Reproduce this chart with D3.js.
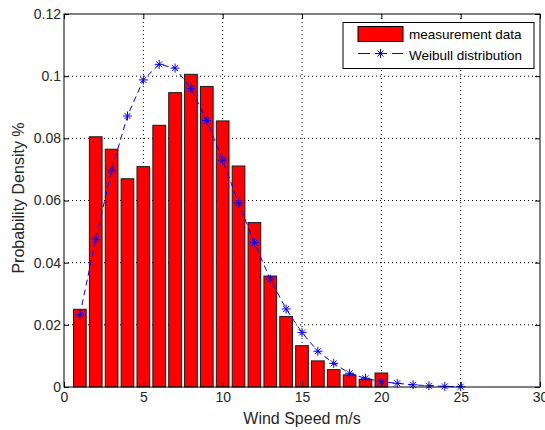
<!DOCTYPE html>
<html>
<head>
<meta charset="utf-8">
<script src="https://cdn.jsdelivr.net/npm/d3@7"></script>
<style>
    body { margin: 0; background: #fff; }
    svg { display: block; font-family: "Liberation Sans", Arial, sans-serif; }
    .tick text { fill: #262626; font-size: 14px; }
</style>
</head>
<body>
<svg id="chart" width="545" height="430"></svg>
<script>
    // measured histogram (bin centres 1..20)
    const speeds = d3.range(1, 21);
    const measured = [0.025, 0.0805, 0.0765, 0.067, 0.0709, 0.0842, 0.0947, 0.1006, 0.0967, 0.0856,
        0.0711, 0.0529, 0.0357, 0.0227, 0.0133, 0.0084, 0.0056, 0.0039, 0.0025, 0.0045];

    // fitted Weibull curve (1..25)
    const weibullX = d3.range(1, 26);
    const weibull = [0.0232, 0.0475, 0.0698, 0.0872, 0.0988, 0.1038, 0.1026, 0.0961, 0.0857, 0.0730,
        0.0592, 0.0464, 0.0347, 0.0251, 0.0175, 0.0115, 0.0076, 0.0044, 0.0028, 0.0017,
        0.0012, 0.0007, 0.0004, 0.0002, 0.0001];

    const xTicks = [0, 5, 10, 15, 20, 25, 30];
    const yTicks = [0, 0.02, 0.04, 0.06, 0.08, 0.1, 0.12];
    const legendLabels = ["measurement data", "Weibull distribution"];

    const margin = { left: 64, right: 5, top: 14, bottom: 43 };
    const svg = d3.select("#chart");
    const width = 545 - margin.left - margin.right;
    const height = 430 - margin.top - margin.bottom;

    const x = d3.scaleLinear().domain([0, 30]).range([0, width]);
    const y = d3.scaleLinear().domain([0, 0.12]).range([height, 0]);

    const g = svg.append("g").attr("transform", `translate(${margin.left},${margin.top})`);

    // grid
    g.append("g").selectAll("line").data(xTicks.slice(1, -1)).join("line")
        .attr("x1", d => x(d)).attr("x2", d => x(d))
        .attr("y1", 0).attr("y2", height)
        .attr("stroke", "#000").attr("stroke-dasharray", "1,3");
    g.append("g").selectAll("line").data(yTicks.slice(1, -1)).join("line")
        .attr("y1", d => y(d)).attr("y2", d => y(d))
        .attr("x1", 0).attr("x2", width)
        .attr("stroke", "#000").attr("stroke-dasharray", "1,3");

    // bars
    const barW = x(0.8) - x(0);
    g.append("g").selectAll("rect").data(speeds).join("rect")
        .attr("x", (d) => x(d) - barW / 2)
        .attr("y", (d, i) => y(measured[i]))
        .attr("width", barW)
        .attr("height", (d, i) => height - y(measured[i]))
        .attr("fill", "#ff0000")
        .attr("stroke", "#1a1a1a")
        .attr("stroke-width", 1);

    // weibull line
    const line = d3.line().x(d => x(d[0])).y(d => y(d[1]));
    const pts = weibullX.map((d, i) => [d, weibull[i]]);
    g.append("path").datum(pts)
        .attr("d", line)
        .attr("fill", "none")
        .attr("stroke", "#0000ff")
        .attr("stroke-width", 1)
        .attr("stroke-dasharray", "6,4");

    const star = (sel, cx, cy) => {
        const s = sel.append("g").attr("transform", `translate(${cx},${cy})`)
            .attr("stroke", "#0000ff").attr("stroke-width", 1);
        s.append("line").attr("x1", -4.5).attr("x2", 4.5).attr("y1", 0).attr("y2", 0);
        s.append("line").attr("x1", 0).attr("x2", 0).attr("y1", -4.5).attr("y2", 4.5);
        s.append("line").attr("x1", -3).attr("x2", 3).attr("y1", -3).attr("y2", 3);
        s.append("line").attr("x1", -3).attr("x2", 3).attr("y1", 3).attr("y2", -3);
    };
    pts.forEach(p => star(g, x(p[0]), y(p[1])));

    // axes (ticks inside, mirrored on top/right)
    const tickLen = 5;
    g.append("g").attr("transform", `translate(0,${height})`)
        .call(d3.axisBottom(x).tickValues(xTicks).tickSize(-tickLen).tickPadding(5).tickFormat(d3.format("d")));
    g.append("g")
        .call(d3.axisLeft(y).tickValues(yTicks).tickSize(-tickLen).tickPadding(3).tickFormat(d => d === 0 ? "0" : String(+d.toFixed(2))));
    g.append("g")
        .call(d3.axisTop(x).tickValues(xTicks).tickSize(-tickLen).tickFormat(""));
    g.append("g").attr("transform", `translate(${width},0)`)
        .call(d3.axisRight(y).tickValues(yTicks).tickSize(-tickLen).tickFormat(""));
    g.selectAll(".domain").remove();
    g.selectAll(".tick line").attr("stroke", "#000");

    g.append("rect").attr("width", width).attr("height", height)
        .attr("fill", "none").attr("stroke", "#000");

    // labels
    svg.append("text")
        .attr("x", margin.left + width / 2).attr("y", 424)
        .attr("text-anchor", "middle").attr("font-size", 16).attr("fill", "#262626")
        .text("Wind Speed m/s");
    svg.append("text")
        .attr("transform", "translate(24,198) rotate(-90)")
        .attr("text-anchor", "middle").attr("font-size", 16).attr("fill", "#262626")
        .text("Probability Density %");

    // legend
    const leg = svg.append("g").attr("transform", "translate(343,22.5)");
    leg.append("rect").attr("width", 191).attr("height", 46)
        .attr("fill", "#fff").attr("stroke", "#000");
    leg.append("rect").attr("x", 15).attr("y", 4).attr("width", 45).attr("height", 15)
        .attr("fill", "#ff0000").attr("stroke", "#000");
    leg.append("line").attr("x1", 15).attr("x2", 60).attr("y1", 31).attr("y2", 31)
        .attr("stroke", "#0000ff").attr("stroke-dasharray", "12,5");
    star(leg, 37.5, 31);
    leg.selectAll("text.lbl").data(legendLabels).join("text")
        .attr("class", "lbl")
        .attr("x", 66).attr("y", (d, i) => 16 + i * 21)
        .attr("font-size", 13.5).attr("fill", "#000")
        .text(d => d);
</script>
</body>
</html>
